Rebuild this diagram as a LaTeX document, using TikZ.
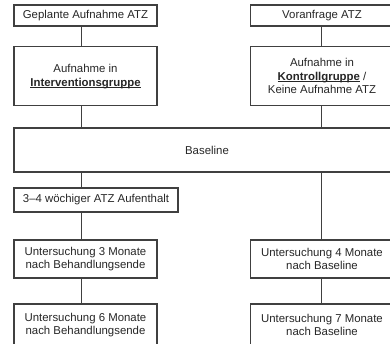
\documentclass[tikz,border=0pt]{standalone}
\usepackage{fontspec}
\setmainfont{Liberation Sans}
\usetikzlibrary{positioning}
\definecolor{linegray}{HTML}{404040}
\newcommand\ulbf[1]{\setbox0\hbox{\bfseries #1}\rlap{\rule[-1.8pt]{\wd0}{1.1pt}}\box0}
\tikzset{
  stage/.style={rectangle, draw=linegray, line width=1.2pt, minimum width=143pt, align=center,
    inner sep=0pt, text=black!85, font=\fontsize{11.4}{13.6}\selectfont},
  link/.style={draw=linegray, line width=1.3pt},
}

\begin{document}
\begin{tikzpicture}[x=1pt, y=1pt]
  \useasboundingbox (0,0) rectangle (390,-344);
  \clip (0,0) rectangle (390,-344);

  % left column: intervention group
  \node[stage, minimum height=21pt] (planned) at (85.5,-15.5) {Geplante Aufnahme ATZ};
  \node[stage, minimum height=59pt] (intervention) at (85.5,-76.3) {Aufnahme in\\\ulbf{Interventionsgruppe}};

  % right column: control group
  \node[stage, minimum height=21pt] (inquiry) at (322,-15.5) {Voranfrage ATZ};
  \node[stage, minimum height=59pt] (control) at (322,-76.3) {Aufnahme in\\\ulbf{Kontrollgruppe}\ /\\Keine Aufnahme ATZ};

  \node[stage, minimum width=386pt, minimum height=44pt] (baseline) at (207,-150) {Baseline};

  \node[stage, minimum width=164pt, minimum height=24pt] (stay) at (96,-200) {3–4 wöchiger ATZ Aufenthalt};
  \node[stage, minimum height=38pt] (followA) at (85.5,-259) {Untersuchung 3 Monate\\nach Behandlungsende};
  \node[stage, minimum height=42pt] (followB) at (85.5,-325) {Untersuchung 6 Monate\\nach Behandlungsende};

  \node[stage, minimum height=38pt] (controlA) at (322,-259) {Untersuchung 4 Monate\\nach Baseline};
  \node[stage, minimum height=42pt] (controlB) at (322,-325) {Untersuchung 7 Monate\\nach Baseline};

  \coordinate (colL) at (81.5,0);
  \coordinate (colR) at (321.5,0);

  \draw[link] (planned.south -| colL) -- (intervention.north -| colL);
  \draw[link] (intervention.south -| colL) -- (baseline.north -| colL);
  \draw[link] (baseline.south -| colL) -- (stay.north -| colL);
  \draw[link] (stay.south -| colL) -- (followA.north -| colL);
  \draw[link] (followA.south -| colL) -- (followB.north -| colL);

  \draw[link] (inquiry.south -| colR) -- (control.north -| colR);
  \draw[link] (control.south -| colR) -- (baseline.north -| colR);
  \draw[link] (baseline.south -| colR) -- (controlA.north -| colR);
  \draw[link] (controlA.south -| colR) -- (controlB.north -| colR);
\end{tikzpicture}
\end{document}
